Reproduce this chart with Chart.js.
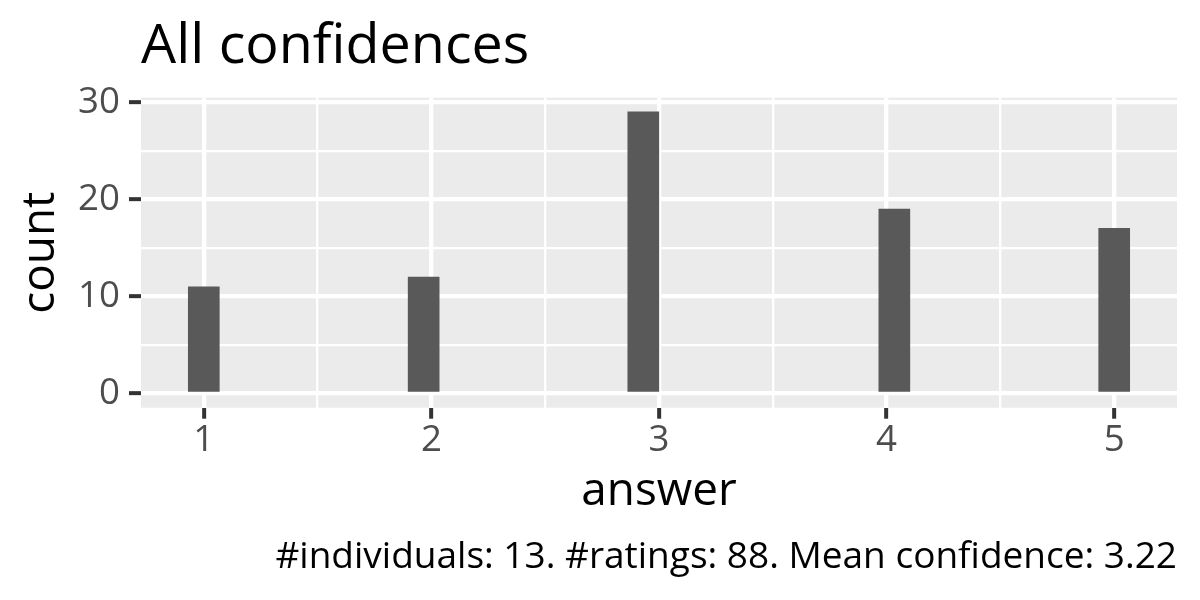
<!DOCTYPE html>
<html>
<head>
<meta charset="utf-8">
<script src="https://cdn.jsdelivr.net/npm/chart.js@4"></script>
<style>
  html, body { margin: 0; padding: 0; background: #ffffff; }
  #wrap { width: 1200px; height: 600px; position: relative; }
</style>
</head>
<body>
<div id="wrap"><canvas id="c"></canvas></div>
<script>
// ---- data ----
const binCenters = [1, 1.966, 2.931, 4.034, 5];
const counts = [11, 12, 29, 19, 17];
const xTickValues = [1, 1.5, 2, 2.5, 3, 3.5, 4, 4.5, 5];
const yTickValues = [0, 5, 10, 15, 20, 25, 30];
const titleText = 'All confidences';
const captionText = '#individuals: 13. #ratings: 88. Mean confidence: 3.22';
const xTitle = 'answer';
const yTitle = 'count';

const FONT = '"Open Sans", "Noto Sans", sans-serif';
const isMajorX = v => Math.abs(v - Math.round(v)) < 1e-9;
const isMajorY = v => v % 10 === 0;

const panelPlugin = {
  id: 'panel',
  beforeDraw(chart) {
    const { ctx, chartArea: a } = chart;
    ctx.save();
    ctx.fillStyle = '#EBEBEB';
    ctx.fillRect(a.left, a.top, a.right - a.left, a.bottom - a.top);
    ctx.restore();
  },
  afterDraw(chart) {
    const { ctx, chartArea: a } = chart;
    ctx.save();
    ctx.fillStyle = '#000000';
    ctx.textBaseline = 'alphabetic';
    ctx.font = '55.6px ' + FONT;
    ctx.textAlign = 'left';
    ctx.fillText(titleText, a.left, 63);
    ctx.font = '37px ' + FONT;
    ctx.textAlign = 'right';
    ctx.fillText(captionText, a.right, 568);
    ctx.restore();
  }
};

new Chart(document.getElementById('c'), {
  type: 'bar',
  data: {
    datasets: [{
      data: binCenters.map((x, i) => ({ x: x, y: counts[i] })),
      backgroundColor: '#595959',
      borderWidth: 0,
      barThickness: 31
    }]
  },
  options: {
    responsive: true,
    maintainAspectRatio: false,
    devicePixelRatio: 1,
    animation: false,
    layout: { padding: { top: 97.7, right: 23, left: 0, bottom: 0 } },
    plugins: { legend: { display: false }, tooltip: { enabled: false }, title: { display: false } },
    scales: {
      x: {
        type: 'linear',
        offset: false,
        min: 0.7241,
        max: 5.2759,
        afterBuildTicks: s => { s.ticks = xTickValues.map(v => ({ value: v })); },
        afterFit: s => { s.height = 192.3; },
        border: { display: false },
        grid: {
          offset: false,
          color: '#FFFFFF',
          lineWidth: c => isMajorX(c.tick.value) ? 4.3 : 2.3,
          drawTicks: true,
          tickLength: 11,
          tickWidth: 4,
          tickColor: c => isMajorX(c.tick.value) ? '#333333' : 'rgba(0,0,0,0)'
        },
        ticks: {
          autoSkip: false,
          maxRotation: 0,
          padding: 0,
          color: '#4D4D4D',
          font: { family: FONT, size: 36.67 },
          callback: v => isMajorX(v) ? String(Math.round(v)) : ''
        },
        title: {
          display: true,
          text: xTitle,
          color: '#000000',
          font: { family: FONT, size: 45.83 },
          padding: { top: 0, bottom: 81 }
        }
      },
      y: {
        type: 'linear',
        min: -1.45,
        max: 30.45,
        afterBuildTicks: s => { s.ticks = yTickValues.map(v => ({ value: v })); },
        afterFit: s => { s.width = 141; },
        border: { display: false },
        grid: {
          color: '#FFFFFF',
          lineWidth: c => isMajorY(c.tick.value) ? 4.3 : 2.3,
          drawTicks: true,
          tickLength: 12,
          tickWidth: 4,
          tickColor: c => isMajorY(c.tick.value) ? '#333333' : 'rgba(0,0,0,0)'
        },
        ticks: {
          autoSkip: false,
          padding: 9,
          color: '#4D4D4D',
          font: { family: FONT, size: 36.67 },
          callback: v => isMajorY(v) ? String(v) : ''
        },
        title: {
          display: true,
          text: yTitle,
          color: '#000000',
          font: { family: FONT, size: 45.83 },
          padding: { top: 13, bottom: 0 }
        }
      }
    }
  },
  plugins: [panelPlugin]
});
</script>
</body>
</html>
